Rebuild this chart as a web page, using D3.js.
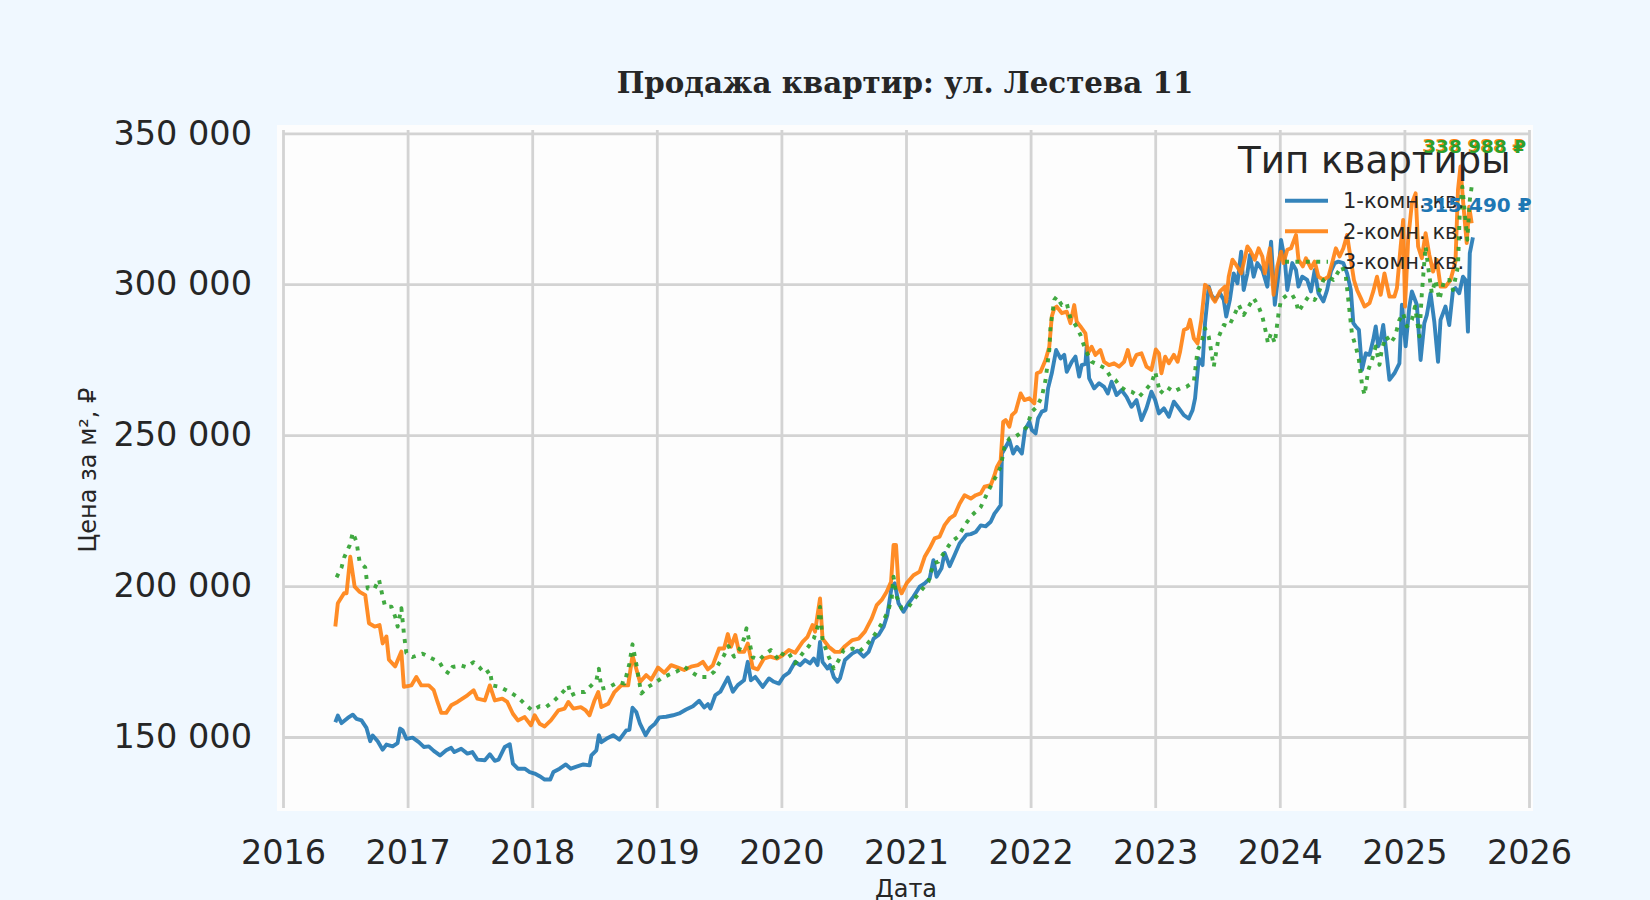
<!DOCTYPE html>
<html>
<head>
<meta charset="utf-8">
<script src="https://cdn.jsdelivr.net/npm/d3@7"></script>
<style>
  body { margin: 0; background: #f0f8ff; }
  svg { display: block; }
</style>
</head>
<body>
<script>
// Продажа квартир: ул. Лестева 11 — price per m2, weekly-ish readings

var seriesNames = ["1-комн. кв.", "2-комн. кв.", "3-комн. кв."];
var xTicks = [2016, 2017, 2018, 2019, 2020, 2021, 2022, 2023, 2024, 2025, 2026];
var yTicks = [150000, 200000, 250000, 300000, 350000];

var dates1 = [2016.42,2016.44,2016.47,2016.52,2016.56,2016.59,2016.63,2016.67,2016.70,2016.72,2016.76,2016.80,2016.83,2016.88,2016.92,
  2016.94,2016.96,2016.99,2017.04,2017.09,2017.13,2017.17,2017.21,2017.26,2017.31,2017.35,2017.375,2017.43,2017.48,2017.52,2017.56,2017.62,2017.66,2017.70,2017.73,2017.78,2017.82,2017.845,2017.885,2017.94,2017.98,
  2018.02,2018.06,2018.10,2018.145,2018.17,2018.22,2018.27,2018.31,2018.35,2018.41,2018.46,2018.475,2018.515,2018.535,2018.555,2018.595,2018.65,2018.70,2018.755,2018.78,2018.805,2018.835,2018.865,2018.91,2018.945,2018.985,
  2019.02,2019.075,2019.13,2019.18,2019.235,2019.29,2019.34,2019.38,2019.41,2019.43,2019.47,2019.51,2019.57,2019.61,2019.65,2019.70,2019.73,2019.755,2019.79,2019.85,2019.90,2019.94,2019.98,
  2020.02,2020.06,2020.11,2020.15,2020.19,2020.23,2020.26,2020.29,2020.31,2020.33,2020.37,2020.39,2020.42,2020.45,2020.47,2020.51,2020.57,2020.61,2020.66,2020.70,2020.74,2020.78,2020.82,2020.85,2020.885,2020.91,2020.94,2020.98,
  2021.02,2021.06,2021.11,2021.15,2021.19,2021.22,2021.245,2021.285,2021.31,2021.35,2021.39,2021.43,2021.485,2021.52,2021.56,2021.60,2021.64,2021.68,2021.71,2021.73,2021.76,2021.77,2021.80,2021.83,2021.86,2021.89,2021.93,2021.955,2021.99,
  2022.01,2022.04,2022.06,2022.09,2022.12,2022.14,2022.17,2022.205,2022.24,2022.27,2022.29,2022.33,2022.36,2022.39,2022.41,2022.44,2022.45,2022.47,2022.51,2022.55,2022.59,2022.62,2022.65,2022.69,2022.73,2022.77,2022.81,2022.85,2022.89,2022.93,2022.97,
  2023.0,2023.03,2023.07,2023.11,2023.15,2023.19,2023.23,2023.27,2023.30,2023.32,2023.35,2023.38,2023.40,2023.43,2023.45,2023.48,2023.52,2023.55,2023.57,2023.60,2023.63,2023.66,2023.69,2023.71,2023.74,2023.76,2023.79,2023.82,2023.86,2023.90,2023.93,2023.96,2023.99,
  2024.01,2024.04,2024.06,2024.10,2024.13,2024.15,2024.18,2024.22,2024.25,2024.28,2024.31,2024.35,2024.38,2024.41,2024.44,2024.47,2024.51,2024.54,2024.57,2024.59,2024.61,2024.635,2024.66,2024.69,2024.72,2024.75,2024.77,2024.79,2024.81,2024.83,2024.85,2024.88,2024.92,2024.96,2024.98,
  2025.01,2025.04,2025.06,2025.10,2025.13,2025.16,2025.18,2025.21,2025.24,2025.27,2025.29,2025.33,2025.36,2025.39,2025.41,2025.44,2025.47,2025.49,2025.51,2025.525,2025.55];
var price1 = [154900,157100,154600,156300,157400,156000,155500,153000,148600,150500,148600,145800,147500,146900,148000,
  152800,152200,149400,149800,148300,146700,146900,145400,143900,145600,146400,145000,146100,144500,145000,142500,142300,144300,142100,142500,146700,147600,141200,139500,139500,138400,
  137900,137000,135900,135900,138400,139500,140900,139500,140100,140900,140600,143900,145600,150600,148300,149400,150600,149100,152200,152400,159700,158300,154400,150600,153000,154400,
  156500,156700,157200,157800,159100,160200,162000,159800,160900,159400,163900,165000,169700,165000,167200,168800,174900,168800,169900,166600,169400,168300,167700,
  170200,171300,174900,173800,175500,174400,176000,173800,181500,174900,172700,173800,169900,168300,169400,175500,177700,178600,176600,178200,182600,183800,186500,190400,199800,200900,194300,191500,
  194300,196500,199800,200900,202500,208600,203100,205900,211000,206600,210300,214100,217000,217200,217900,220100,219800,221300,224000,225100,226800,243900,246100,248300,243900,246100,243900,251700,254400,
  251700,250600,255500,257800,258300,265500,270500,278200,275400,276600,271000,274300,276000,269400,273200,273600,279300,268800,265500,267200,266000,263800,267700,263300,264900,262700,259400,261600,255000,258900,264400,
  261600,257200,258900,256100,261100,258900,256600,255500,258300,262200,275400,273200,287100,299200,296500,294800,297000,294800,289300,295000,303600,300300,310800,298100,303600,309700,302500,307000,304700,299200,314100,293200,303600,
  314700,308100,298100,307000,304700,299200,302500,301400,297600,304700,297000,294300,298100,304200,307000,307500,307000,303600,298100,287100,286000,284900,271600,277100,276600,281600,286000,279400,281600,286500,279400,268300,270500,273800,293200,
  279400,292600,297600,293200,274900,287100,289800,297000,287600,274300,288200,292600,286500,298100,298700,297000,302500,301400,284300,310300,315490];

var dates2 = [2016.42,2016.44,2016.49,2016.51,2016.54,2016.575,2016.615,2016.66,2016.69,2016.735,2016.775,2016.80,2016.83,2016.85,2016.90,2016.95,2016.97,
  2017.03,2017.07,2017.11,2017.17,2017.21,2017.24,2017.27,2017.31,2017.35,2017.40,2017.44,2017.48,2017.53,2017.56,2017.62,2017.66,2017.70,2017.76,2017.80,2017.845,2017.885,2017.94,2017.99,
  2018.02,2018.06,2018.10,2018.15,2018.21,2018.26,2018.29,2018.33,2018.39,2018.43,2018.46,2018.50,2018.53,2018.555,2018.61,2018.66,2018.715,2018.77,2018.805,2018.835,2018.865,2018.915,2018.955,
  2019.01,2019.06,2019.115,2019.17,2019.22,2019.275,2019.33,2019.37,2019.41,2019.45,2019.50,2019.54,2019.57,2019.595,2019.63,2019.66,2019.70,2019.73,2019.77,2019.81,2019.86,2019.91,2019.965,
  2020.01,2020.06,2020.11,2020.17,2020.21,2020.25,2020.27,2020.31,2020.33,2020.38,2020.43,2020.47,2020.51,2020.57,2020.62,2020.67,2020.725,2020.765,2020.805,2020.845,2020.88,2020.90,2020.92,2020.94,2020.965,
  2021.005,2021.06,2021.11,2021.15,2021.19,2021.23,2021.27,2021.31,2021.35,2021.39,2021.43,2021.47,2021.52,2021.56,2021.60,2021.63,2021.68,2021.71,2021.73,2021.76,2021.78,2021.80,2021.83,2021.85,2021.88,2021.92,2021.95,2021.99,
  2022.03,2022.05,2022.08,2022.12,2022.15,2022.17,2022.19,2022.21,2022.25,2022.29,2022.32,2022.35,2022.37,2022.40,2022.44,2022.46,2022.49,2022.52,2022.56,2022.59,2022.63,2022.67,2022.71,2022.75,2022.78,2022.81,2022.85,2022.89,2022.93,2022.97,
  2023.005,2023.03,2023.05,2023.08,2023.11,2023.15,2023.18,2023.20,2023.23,2023.26,2023.28,2023.31,2023.34,2023.37,2023.40,2023.43,2023.46,2023.48,2023.52,2023.56,2023.57,2023.59,2023.62,2023.65,2023.69,2023.71,2023.74,2023.76,2023.80,2023.83,2023.86,2023.88,2023.92,2023.95,2023.98,
  2024.01,2024.03,2024.06,2024.09,2024.13,2024.15,2024.185,2024.21,2024.25,2024.28,2024.31,2024.35,2024.39,2024.42,2024.45,2024.48,2024.51,2024.54,2024.57,2024.595,2024.62,2024.65,2024.68,2024.72,2024.75,2024.78,2024.81,2024.84,2024.88,2024.92,2024.94,2024.97,2024.99,
  2025.005,2025.03,2025.06,2025.09,2025.11,2025.14,2025.17,2025.20,2025.23,2025.26,2025.29,2025.33,2025.37,2025.41,2025.43,2025.45,2025.47,2025.50,2025.52,2025.54];
var price2 = [186600,194300,197600,197600,209700,199800,198100,197000,187700,186600,187100,181000,183300,175600,173400,178300,166600,
  167100,169900,167100,167100,165500,161600,158000,158000,160500,161600,162700,163800,165500,162700,162100,167100,162100,162700,161600,157700,155500,156600,153900,
  157200,154400,153500,155500,158800,159400,161600,159400,159900,158800,157200,162100,164900,159900,161000,164900,167100,167100,177000,172600,168200,170500,169000,
  173000,171300,173800,173000,172200,173300,173800,174900,172400,173800,179300,179300,184100,179900,183800,178200,178200,181000,173000,172400,176000,176600,176000,
  177100,178800,177900,181500,183200,187100,184900,195900,182600,179900,178200,178200,180100,182100,182600,184900,189300,193700,195400,198100,201400,213600,213600,199800,197600,
  200900,203600,204800,209700,212500,215800,216400,220200,222400,223500,227300,230100,229000,230100,230700,232900,233400,236700,239500,241700,254400,255000,252800,256600,257800,263800,261600,262200,
  260500,270500,271000,274900,279300,289300,292000,292600,290400,290900,287100,293100,287600,286000,283700,277100,279300,276600,278200,274300,273200,273800,272700,274300,278200,273200,276600,277100,272700,271600,
  278400,277100,270500,276000,273800,276600,274300,277700,284800,285400,288200,282100,280400,288200,299800,298700,295400,294200,297600,299200,294200,302500,308100,306400,303600,307000,312500,311400,308100,311900,309200,303600,311900,296500,305900,
  310800,307000,311400,311900,316300,308100,305900,308600,305300,307500,302500,301400,302500,307000,311900,309200,311900,316300,308100,301400,298100,295400,292600,293700,297600,302500,296500,303600,295900,295900,298700,312500,321300,
  292600,314700,326800,330100,312500,308600,316900,309700,304200,308100,299200,299200,301400,307500,331200,339000,327900,313600,325700,320200];

var dates3 = [2016.43,2016.47,2016.49,2016.535,2016.56,2016.59,2016.615,2016.66,2016.68,2016.735,2016.77,2016.80,2016.82,2016.87,2016.90,2016.92,2016.95,2016.97,2016.99,
  2017.04,2017.12,2017.20,2017.255,2017.295,2017.335,2017.36,2017.43,2017.47,2017.53,2017.575,2017.62,2017.66,2017.68,2017.74,2017.82,2017.885,2017.95,
  2018.0,2018.06,2018.11,2018.165,2018.22,2018.26,2018.29,2018.31,2018.37,2018.42,2018.475,2018.515,2018.535,2018.555,2018.62,2018.69,2018.74,2018.78,2018.805,2018.835,2018.875,2018.93,2018.995,
  2019.035,2019.09,2019.155,2019.22,2019.275,2019.34,2019.41,2019.46,2019.50,2019.54,2019.575,2019.62,2019.66,2019.70,2019.72,2019.74,2019.77,2019.82,2019.86,2019.915,2019.98,
  2020.02,2020.06,2020.11,2020.17,2020.22,2020.26,2020.295,2020.31,2020.33,2020.38,2020.42,2020.46,2020.50,2020.57,2020.62,2020.67,2020.725,2020.765,2020.805,2020.855,2020.885,2020.90,2020.925,2020.965,
  2021.02,2021.07,2021.125,2021.18,2021.22,2021.26,2021.31,2021.365,2021.42,2021.47,2021.53,2021.60,2021.67,2021.72,2021.76,2021.79,2021.83,2021.88,2021.93,2021.97,
  2022.01,2022.05,2022.09,2022.12,2022.15,2022.16,2022.19,2022.21,2022.25,2022.29,2022.32,2022.36,2022.40,2022.44,2022.49,2022.55,2022.60,2022.64,2022.68,2022.72,2022.76,2022.81,2022.87,2022.92,2022.97,
  2023.0,2023.04,2023.09,2023.15,2023.20,2023.25,2023.31,2023.34,2023.37,2023.40,2023.43,2023.45,2023.47,2023.51,2023.55,2023.59,2023.63,2023.67,2023.71,2023.75,2023.79,2023.83,2023.86,2023.89,2023.905,2023.93,2023.96,2023.99,
  2024.01,2024.06,2024.10,2024.13,2024.15,2024.185,2024.23,2024.28,2024.31,2024.35,2024.39,2024.43,2024.47,2024.50,2024.53,2024.56,2024.58,2024.61,2024.635,2024.66,2024.68,2024.71,2024.74,2024.77,2024.80,2024.82,2024.855,2024.89,2024.925,2024.96,2024.99,
  2025.02,2025.06,2025.085,2025.12,2025.14,2025.17,2025.19,2025.22,2025.25,2025.28,2025.32,2025.36,2025.39,2025.43,2025.445,2025.465,2025.485,2025.505,2025.525,2025.54];
var price3 = [202900,206200,209400,213500,217700,214600,208000,206200,199200,199200,202200,196500,193200,193200,189900,186600,192700,184400,177800,
  176500,177600,175900,174800,172100,171000,173200,173700,173200,174800,173200,171000,172100,167100,166600,164900,163200,160500,
  158800,160200,159900,161600,163800,165500,167100,163800,164900,164900,167100,168800,172600,166000,166600,168200,167700,174300,180700,174300,164400,166600,168200,
  169400,170500,171600,173300,171600,169900,169900,171600,174400,177100,180100,176600,178800,182600,186000,182100,176400,175500,177100,178800,175500,
  178200,177700,174400,177700,180100,182600,187100,193100,182100,176600,172700,175500,178800,179300,178200,179900,182600,184900,187600,191500,195900,203100,196500,192600,
  193100,195900,198700,201400,207500,208100,211400,214700,216400,220100,223500,226200,232300,236200,239500,246100,248900,249500,251100,252800,
  257800,259400,262700,268300,278200,286000,294800,295900,293100,293700,288700,286500,283200,278200,274300,273200,272100,269400,268300,266000,264900,264400,262700,264900,267200,
  271000,263800,266000,264400,265500,266000,267700,278200,280400,285400,282600,277700,272700,282600,286500,286000,289300,293200,289800,292600,295400,292600,289300,283800,280500,283800,280500,290400,
  294800,296500,296500,294300,290900,293200,295900,294800,297000,301400,302500,301400,304200,305900,302500,290900,283200,279400,274900,266700,263300,271600,274900,279400,273300,278800,282700,280500,282700,288200,290400,
  286000,288200,292600,282700,297000,312500,305900,297000,301400,294800,301400,301400,298100,305900,324600,332300,323500,314700,327900,332300];

var labelText = ["315 490 ₽", "338 988 ₽", "338 988 ₽"];
var labelValue = [315490, 338988, 338988];

var colors = ["#1f77b4", "#ff7f0e", "#2ca02c"];
var dashes = [null, null, "4,6.4"];

var W = 1650, H = 900;
var svg = d3.select("body").append("svg").attr("width", W).attr("height", H);
svg.append("rect").attr("width", W).attr("height", H).attr("fill", "#f0f8ff");

var x = d3.scaleLinear().domain([2016, 2026]).range([283, 1529]);
var y = d3.scaleLinear().domain([126480, 351090]).range([808, 130]);

var ru = d3.formatLocale({decimal: ",", thousands: " ", grouping: [3], currency: ["", " ₽"]});
var fmt = ru.format(",d");

// plot background
svg.append("rect").attr("x", 277).attr("y", 125).attr("width", 1256).attr("height", 686).attr("fill", "#fdfdfd");

var textCol = "#262626", gridCol = "#d3d3d3";

var gx = svg.append("g").attr("transform", "translate(0,808)")
  .call(d3.axisBottom(x).tickValues(xTicks).tickFormat(d3.format("d"))
    .tickSize(-(808 - 130)).tickPadding(32));
var gy = svg.append("g").attr("transform", "translate(283,0)")
  .call(d3.axisLeft(y).tickValues(yTicks).tickFormat(fmt)
    .tickSize(-(1529 - 283)).tickPadding(31));

[gx, gy].forEach(function(g) {
  g.select(".domain").remove();
  g.selectAll(".tick line").attr("stroke", gridCol).attr("stroke-width", 2.8);
  g.selectAll(".tick text").attr("fill", textCol)
    .style("font-family", "DejaVu Sans").style("font-size", "33.5px");
});

// lines
var line = d3.line().x(function(d) { return x(d[0]); }).y(function(d) { return y(d[1]); });
var seriesData = [d3.zip(dates1, price1), d3.zip(dates2, price2), d3.zip(dates3, price3)];

svg.append("g").selectAll("path")
  .data(seriesData)
  .enter()
  .append("path")
  .attr("d", line)
  .attr("fill", "none")
  .attr("stroke", function(d, i) { return colors[i]; })
  .attr("stroke-width", 3.9)
  .attr("stroke-opacity", 0.9)
  .attr("stroke-linejoin", "round")
  .attr("stroke-dasharray", function(d, i) { return dashes[i]; });

// title and axis labels
svg.append("text").attr("x", 905).attr("y", 93).attr("text-anchor", "middle")
  .attr("fill", textCol).style("font-family", "DejaVu Serif").style("font-weight", "bold")
  .style("font-size", "29.3px").text("Продажа квартир: ул. Лестева 11");

svg.append("text").attr("x", 906).attr("y", 897).attr("text-anchor", "middle")
  .attr("fill", textCol).style("font-family", "DejaVu Sans").style("font-size", "24px").text("Дата");

svg.append("text").attr("transform", "translate(96,470) rotate(-90)").attr("text-anchor", "middle")
  .attr("fill", textCol).style("font-family", "DejaVu Sans").style("font-size", "24px").text("Цена за м², ₽");

// legend
var lg = svg.append("g");
lg.append("text").attr("x", 1238).attr("y", 173).attr("fill", textCol)
  .style("font-family", "DejaVu Sans").style("font-size", "37.2px").text("Тип квартиры");
seriesNames.forEach(function(name, i) {
  var cy = 200.7 + i * 30.5;
  lg.append("line").attr("x1", 1285).attr("x2", 1328).attr("y1", cy).attr("y2", cy)
    .attr("stroke", colors[i]).attr("stroke-width", 3.9).attr("stroke-opacity", 0.9)
    .attr("stroke-dasharray", dashes[i]);
  lg.append("text").attr("x", 1343).attr("y", cy + 7.5).attr("fill", textCol)
    .style("font-family", "DejaVu Sans").style("font-size", "21px").text(name);
});

// last value labels
var labelDy = [-25.8, -14.6, -13.8];
var labelDx = [3, 2, 3];
var labelSize = [20, 18.5, 18.5];
[0, 1, 2].forEach(function(i) {
  var last = seriesData[i][seriesData[i].length - 1];
  svg.append("text")
    .attr("x", x(last[0]) + labelDx[i])
    .attr("y", y(labelValue[i]) + labelDy[i])
    .attr("text-anchor", "middle")
    .attr("fill", colors[i])
    .style("font-family", "DejaVu Sans").style("font-weight", "bold")
    .style("font-size", labelSize[i] + "px")
    .text(labelText[i]);
});
</script>
</body>
</html>
